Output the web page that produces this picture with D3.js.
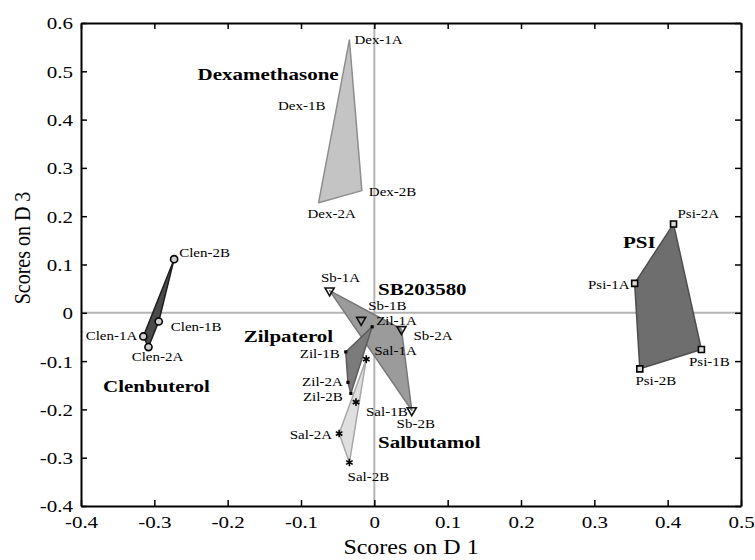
<!DOCTYPE html>
<html>
<head>
<meta charset="utf-8">
<script src="https://cdn.jsdelivr.net/npm/d3@7"></script>
<style>
  body { margin: 0; background: #fff; }
  svg text { font-family: "Liberation Serif", "Times New Roman", serif; fill: #000; }
</style>
</head>
<body>
<script>
// scores on D1 / D3 for each sample, per treatment group
var dexNames = ["Dex-1A", "Dex-1B", "Dex-2A", "Dex-2B"];
var dexD1 = [-0.034, -0.049, -0.076, -0.017];
var dexD3 = [0.565, 0.436, 0.228, 0.253];

var clenNames = ["Clen-1A", "Clen-1B", "Clen-2A", "Clen-2B"];
var clenD1 = [-0.315, -0.294, -0.308, -0.273];
var clenD3 = [-0.049, -0.018, -0.071, 0.111];

var psiNames = ["Psi-1A", "Psi-1B", "Psi-2A", "Psi-2B"];
var psiD1 = [0.355, 0.446, 0.408, 0.362];
var psiD3 = [0.061, -0.076, 0.184, -0.116];

var sbNames = ["Sb-1A", "Sb-1B", "Sb-2A", "Sb-2B"];
var sbD1 = [-0.061, -0.018, 0.037, 0.051];
var sbD3 = [0.046, -0.015, -0.034, -0.202];

var zilNames = ["Zil-1A", "Zil-1B", "Zil-2A", "Zil-2B"];
var zilD1 = [-0.003, -0.039, -0.036, -0.032];
var zilD3 = [-0.029, -0.081, -0.144, -0.167];

var salNames = ["Sal-1A", "Sal-1B", "Sal-2A", "Sal-2B"];
var salD1 = [-0.011, -0.025, -0.048, -0.034];
var salD3 = [-0.096, -0.185, -0.250, -0.310];

var groupNames = ["Dexamethasone", "Clenbuterol", "PSI", "SB203580", "Zilpaterol", "Salbutamol"];
// where each group title sits, in score units (left/baseline of the text)
var groupTitleD1 = [-0.241, -0.370, 0.339, 0.005, -0.178, 0.005];
var groupTitleD3 = [0.482, -0.164, 0.134, 0.037, -0.060, -0.280];

var xTicks = [-0.4, -0.3, -0.2, -0.1, 0, 0.1, 0.2, 0.3, 0.4, 0.5];
var yTicks = [-0.4, -0.3, -0.2, -0.1, 0, 0.1, 0.2, 0.3, 0.4, 0.5, 0.6];

// look of each group: polygon fill, edge, marker
var groupStyle = [
	{fill: "#c4c4c4", edge: "#8e8e8e", sym: d3.symbolPlus, size: 28, mfill: "#000", mstroke: "none"},
	{fill: "#4a4a4a", edge: "#1e1e1e", sym: d3.symbolCircle, size: 40, mfill: "#cfcfcf", mstroke: "#000"},
	{fill: "#6e6e6e", edge: "#4e4e4e", sym: d3.symbolSquare, size: 36, mfill: "#d8d8d8", mstroke: "#000"},
	{fill: "#9b9b9b", edge: "#777", sym: d3.symbolTriangle, size: 36, mfill: "none", mstroke: "#111", flip: true},
	{fill: "#7b7b7b", edge: "#5c5c5c", sym: d3.symbolSquare, size: 10, mfill: "#000", mstroke: "none"},
	{fill: "#dfdfdf", edge: "#a8a8a8", sym: d3.symbolAsterisk, size: 40, mfill: "none", mstroke: "#000"}
];

// sample label placement relative to its marker (px) and text anchor
var labelPlace = {
	"Dex-1A": [5, 4, "start"], "Dex-1B": [-13, 8, "end"], "Dex-2A": [13, 15, "middle"], "Dex-2B": [7, 5, "start"],
	"Clen-1A": [-6, 4, "end"], "Clen-1B": [12, 10, "start"], "Clen-2A": [9, 14, "middle"], "Clen-2B": [5, -2, "start"],
	"Psi-1A": [-5, 6, "end"], "Psi-1B": [8, 16, "middle"], "Psi-2A": [4, -6, "start"], "Psi-2B": [16, 16, "middle"],
	"Sb-1A": [11, -9, "middle"], "Sb-1B": [7, -10, "start"], "Sb-2A": [12, 11, "start"], "Sb-2B": [4, 18, "middle"],
	"Zil-1A": [4, -2, "start"], "Zil-1B": [-6, 6, "end"], "Zil-2A": [-5, 4, "end"], "Zil-2B": [-8, 8, "end"],
	"Sal-1A": [8, -4, "start"], "Sal-1B": [10, 14, "start"], "Sal-2A": [-7, 5, "end"], "Sal-2B": [19, 18, "middle"]
};

var groupSamples = [
	[dexNames, dexD1, dexD3], [clenNames, clenD1, clenD3], [psiNames, psiD1, psiD3],
	[sbNames, sbD1, sbD3], [zilNames, zilD1, zilD3], [salNames, salD1, salD3]
];

var groups = groupNames.map(function(g, i) {
	var s = groupSamples[i];
	return {
		name: g, style: groupStyle[i], tx: groupTitleD1[i], ty: groupTitleD3[i],
		points: s[0].map(function(n, j) { return {name: n, d1: s[1][j], d3: s[2][j]}; })
	};
});

var svgWidth = 755, svgHeight = 560;
var sx = 1.2; // the figure's type is set wide
var serif = "'Liberation Serif', 'Times New Roman', serif";

var x = d3.scaleLinear().domain([-0.4, 0.5]).range([81, 741]);
var y = d3.scaleLinear().domain([-0.4, 0.6]).range([506, 23]);

var svg = d3.select("body").append("svg")
	.attr("width", svgWidth)
	.attr("height", svgHeight)
	.attr("font-family", serif);

function wide(sel, px, py, rot) {
	sel.attr("transform", "translate(" + px + "," + py + ") scale(" + sx + ",1)" + (rot ? " rotate(" + rot + ")" : ""));
}

// zero lines
svg.append("line")
	.attr("x1", x(-0.4)).attr("x2", x(0.5)).attr("y1", y(0)).attr("y2", y(0))
	.attr("stroke", "#b4b4b4").attr("stroke-width", 2);
svg.append("line")
	.attr("x1", x(0)).attr("x2", x(0)).attr("y1", y(-0.4)).attr("y2", y(0.6))
	.attr("stroke", "#b4b4b4").attr("stroke-width", 2);

// group polygons (convex hull of the samples)
svg.selectAll("path.hull")
	.data(groups)
	.enter()
	.append("path")
	.attr("class", "hull")
	.attr("d", function(d) {
		var pts = d.points.map(function(p) { return [x(p.d1), y(p.d3)]; });
		return "M" + d3.polygonHull(pts).join("L") + "Z";
	})
	.attr("fill", function(d) { return d.style.fill; })
	.attr("stroke", function(d) { return d.style.edge; })
	.attr("stroke-width", 1.5)
	.attr("stroke-linejoin", "round");

// markers
var marks = svg.selectAll("g.grp")
	.data(groups)
	.enter()
	.append("g")
	.attr("class", "grp");

marks.selectAll("path.mark")
	.data(function(d) { return d.points.map(function(p) { return {p: p, st: d.style}; }); })
	.enter()
	.append("path")
	.attr("class", "mark")
	.attr("d", function(d) { return d3.symbol().type(d.st.sym).size(d.st.size)(); })
	.attr("transform", function(d) {
		return "translate(" + x(d.p.d1) + "," + y(d.p.d3) + ")" + (d.st.flip ? " rotate(180)" : "");
	})
	.attr("fill", function(d) { return d.st.mfill; })
	.attr("stroke", function(d) { return d.st.mstroke; })
	.attr("stroke-width", 1.6);

// sample labels
marks.selectAll("text.lab")
	.data(function(d) { return d.points; })
	.enter()
	.append("text")
	.attr("class", "lab")
	.attr("font-size", 12.5)
	.attr("text-anchor", function(d) { return labelPlace[d.name][2]; })
	.text(function(d) { return d.name; })
	.each(function(d) {
		var lp = labelPlace[d.name];
		wide(d3.select(this), x(d.d1) + lp[0], y(d.d3) + lp[1]);
	});

// group titles
svg.selectAll("text.gtitle")
	.data(groups)
	.enter()
	.append("text")
	.attr("class", "gtitle")
	.attr("font-size", 17.5)
	.attr("font-weight", "bold")
	.text(function(d) { return d.name; })
	.each(function(d) { wide(d3.select(this), x(d.tx), y(d.ty)); });

// axes: box with inward ticks on all sides
var fmt = function(d) { return String(+d.toFixed(1)); };

var xAxis = svg.append("g").attr("transform", "translate(0," + y(-0.4) + ")")
	.call(d3.axisBottom(x).tickValues(xTicks).tickSize(-6).tickSizeOuter(0).tickFormat(fmt));
xAxis.selectAll("text")
	.attr("y", 0).attr("dy", 0).attr("font-size", 17.5)
	.each(function() { wide(d3.select(this), 0, 22); });

var yAxis = svg.append("g").attr("transform", "translate(" + x(-0.4) + ",0)")
	.call(d3.axisLeft(y).tickValues(yTicks).tickSize(-6).tickSizeOuter(0).tickFormat(fmt));
yAxis.selectAll("text")
	.attr("x", 0).attr("dy", "0.34em").attr("font-size", 17.5)
	.each(function() { wide(d3.select(this), -8, 0); });

svg.append("g").attr("transform", "translate(0," + y(0.6) + ")")
	.call(d3.axisTop(x).tickValues(xTicks).tickSize(-6).tickSizeOuter(0).tickFormat(""));
svg.append("g").attr("transform", "translate(" + x(0.5) + ",0)")
	.call(d3.axisRight(y).tickValues(yTicks).tickSize(-6).tickSizeOuter(0).tickFormat(""));

svg.selectAll("g").attr("font-family", serif);
svg.selectAll(".domain").attr("stroke", "#000").attr("stroke-width", 2);
svg.selectAll(".tick line").attr("stroke", "#000").attr("stroke-width", 1.5);

// axis titles
svg.append("text")
	.attr("font-size", 20)
	.attr("text-anchor", "middle")
	.text("Scores on D 1")
	.call(wide, (x(-0.4) + x(0.5)) / 2, 554);

svg.append("text")
	.attr("font-size", 20)
	.attr("text-anchor", "middle")
	.text("Scores on D 3")
	.call(wide, 30, 248, -90);
</script>
</body>
</html>
